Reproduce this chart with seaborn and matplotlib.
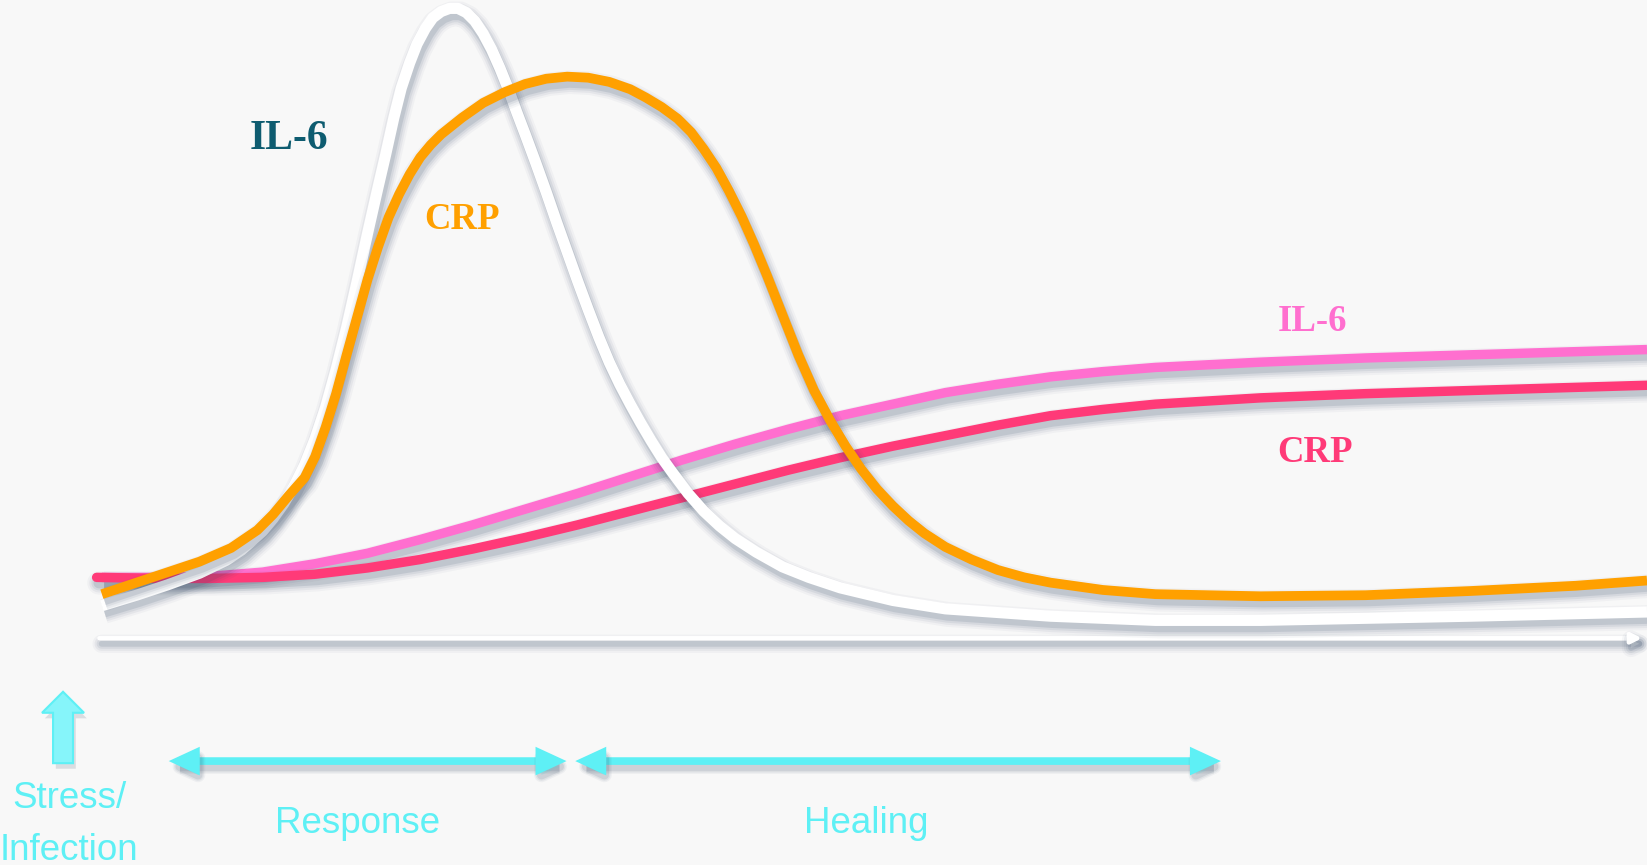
import matplotlib
matplotlib.use("Agg")
import matplotlib.pyplot as plt
import matplotlib.patheffects as pe
from matplotlib.patches import FancyArrowPatch, FancyArrow
import seaborn as sns
import pandas as pd

# Time axis (arbitrary units) and marker readings measured downward from the top
il6_acute_t = [97, 130, 160, 190, 215, 230, 240, 250, 260, 270, 280, 290, 300, 310,
               320, 330, 340, 350, 360, 367, 375, 382, 390, 397, 405, 412, 420, 428,
               436, 444, 452, 460, 468, 476, 484, 492, 500, 510, 520, 530, 540, 550,
               560, 570, 580, 590, 600, 610, 620, 630, 640, 655, 670, 685, 700, 720,
               745, 770, 800, 850, 900, 1000, 1100, 1200, 1300, 1400, 1568]
il6_acute_y = [577, 567, 557, 546, 534, 524, 515, 506, 494, 480, 463, 443, 418, 388,
               352, 312, 268, 222, 178, 148, 112, 84, 60, 42, 27, 17, 11, 8,
               8, 12, 20, 32, 47, 65, 85, 107, 128, 155, 183, 212, 240, 268,
               295, 321, 345, 366, 385, 403, 420, 436, 450, 470, 487, 501, 513, 526,
               540, 550, 560, 572, 580, 587, 591, 591, 589, 587, 583]

crp_acute_t = [97, 130, 160, 190, 220, 245, 260, 275, 290, 300, 310, 320, 330, 340,
               350, 360, 370, 380, 390, 400, 410, 420, 430, 440, 460, 480, 500, 520,
               540, 560, 580, 600, 615, 630, 645, 658, 670, 682, 694, 706, 718, 730,
               745, 760, 775, 790, 805, 820, 835, 850, 865, 880, 900, 925, 950, 975,
               1000, 1050, 1100, 1200, 1300, 1400, 1500, 1568]
crp_acute_y = [566, 555, 545, 535, 522, 505, 490, 472, 455, 435, 407, 375, 338, 302,
               266, 235, 207, 185, 166, 150, 138, 128, 120, 112, 98, 88, 80, 75,
               73, 74, 78, 85, 93, 102, 113, 126, 142, 160, 182, 206, 233, 262,
               300, 338, 372, 400, 425, 447, 466, 482, 496, 508, 521, 533, 543, 550,
               555, 562, 566, 568, 567, 563, 558, 553]

il6_chronic_t = [97, 150, 200, 250, 300, 350, 400, 450, 500, 550, 600, 650, 700, 750,
                 800, 850, 900, 950, 1000, 1050, 1100, 1200, 1300, 1400, 1500, 1568]
il6_chronic_y = [550, 550, 549, 545, 537, 527, 514, 500, 485, 470, 454, 438, 423, 409,
                 396, 385, 374, 366, 359, 354, 350, 345, 341, 338, 335, 333]

crp_chronic_t = [92, 150, 200, 250, 300, 350, 400, 450, 500, 550, 600, 650, 700, 750,
                 800, 850, 900, 950, 1000, 1050, 1100, 1200, 1300, 1400, 1500, 1568]
crp_chronic_y = [550, 551, 551, 550, 547, 541, 533, 523, 512, 500, 487, 474, 461, 448,
                 436, 425, 415, 405, 396, 390, 385, 379, 375, 372, 369, 367]

BASE = 608  # baseline of the time axis


def level(vals):
    return [BASE - v for v in vals]


BG = "#f8f8f8"
CYAN = "#5ef0f5"
SHADOW = "#2f4560"

sns.set_style("white")
plt.rcParams["font.family"] = ["Liberation Sans", "DejaVu Sans"]

fig = plt.figure(figsize=(16.47, 8.65), dpi=100, facecolor=BG)
ax = fig.add_axes([0, 0, 1, 1])
ax.set_facecolor(BG)
ax.set_xlim(0, 1568)
ax.set_ylim(BASE - 824, BASE)
ax.set_axis_off()


def soft_shadow(lw, dx=1.6, dy=-4.0, steps=((10, 0.04), (7, 0.06), (4, 0.08), (1, 0.12))):
    fx = []
    for extra, a in steps:
        fx.append(pe.Stroke(offset=(dx, dy), linewidth=lw + extra,
                            foreground=SHADOW, alpha=a, joinstyle="round"))
    fx.append(pe.Normal())
    return fx


def curve(t, y, color, lw, z, cap="butt"):
    df = pd.DataFrame({"time": t, "level": level(y)})
    sns.lineplot(data=df, x="time", y="level", ax=ax, color=color,
                 linewidth=lw, sort=False, zorder=z)
    ln = ax.lines[-1]
    ln.set_solid_capstyle(cap)
    ln.set_solid_joinstyle("round")
    ln.set_path_effects(soft_shadow(lw))


# time axis with a small arrow head
axis_arrow = FancyArrowPatch((92, 0), (1566, 0), arrowstyle="-|>,head_length=6,head_width=3",
                             mutation_scale=1, color="white", lw=3.2, zorder=1)
axis_arrow.set_path_effects(soft_shadow(3.2))
ax.add_patch(axis_arrow)

curve(il6_chronic_t, il6_chronic_y, "#ff6fcf", 6.8, 2)
curve(crp_chronic_t, crp_chronic_y, "#ff3a78", 6.8, 3, cap="round")
curve(il6_acute_t, il6_acute_y, "#ffffff", 8, 4)
curve(crp_acute_t, crp_acute_y, "#ffa000", 7, 5)

# curve labels
serif = ["Liberation Serif", "DejaVu Serif"]
ax.text(275, level([132])[0], "IL-6", color="#0e5c70", fontsize=30, fontweight="bold",
        family=serif, ha="center", va="center", zorder=6)
ax.text(440, level([209])[0], "CRP", color="#ffa000", fontsize=26.5, fontweight="bold",
        family=serif, ha="center", va="center", zorder=6)
ax.text(1250, level([306])[0], "IL-6", color="#ff6fcf", fontsize=26.5, fontweight="bold",
        family=serif, ha="center", va="center", zorder=6)
ax.text(1252, level([431])[0], "CRP", color="#ff3a78", fontsize=26.5, fontweight="bold",
        family=serif, ha="center", va="center", zorder=6)

# stress / infection marker
up = FancyArrow(60, BASE - 727, 0, 68, width=19, head_width=40, head_length=20,
                length_includes_head=True, facecolor="#86f5fa", edgecolor=CYAN,
                lw=1.5, zorder=6)
up.set_path_effects([pe.SimplePatchShadow(offset=(2, -4), shadow_rgbFace=SHADOW, alpha=0.15),
                     pe.Normal()])
ax.add_patch(up)

# phase arrows
for x0, x1 in [(158, 542), (545, 1165)]:
    arr = FancyArrowPatch((x0, BASE - 725), (x1, BASE - 725),
                          arrowstyle="<|-|>,head_length=13,head_width=6",
                          mutation_scale=1, color=CYAN, lw=5.5, zorder=6,
                          joinstyle="miter", capstyle="butt")
    arr.set_path_effects(soft_shadow(5.5, dx=1.5, dy=-4,
                                     steps=((5, 0.05), (3, 0.07), (1, 0.1))))
    ax.add_patch(arr)

ax.text(66, level([761])[0], "Stress/", color=CYAN, fontsize=26.5, ha="center",
        va="center", zorder=6)
ax.text(66, level([810])[0], "Infection", color=CYAN, fontsize=26.5, ha="center",
        va="center", zorder=6)
ax.text(340, level([784])[0], "Response", color=CYAN, fontsize=26.5, ha="center",
        va="center", zorder=6)
ax.text(825, level([784])[0], "Healing", color=CYAN, fontsize=26.5, ha="center",
        va="center", zorder=6)

fig.savefig("out.png", dpi=100, facecolor=BG)
